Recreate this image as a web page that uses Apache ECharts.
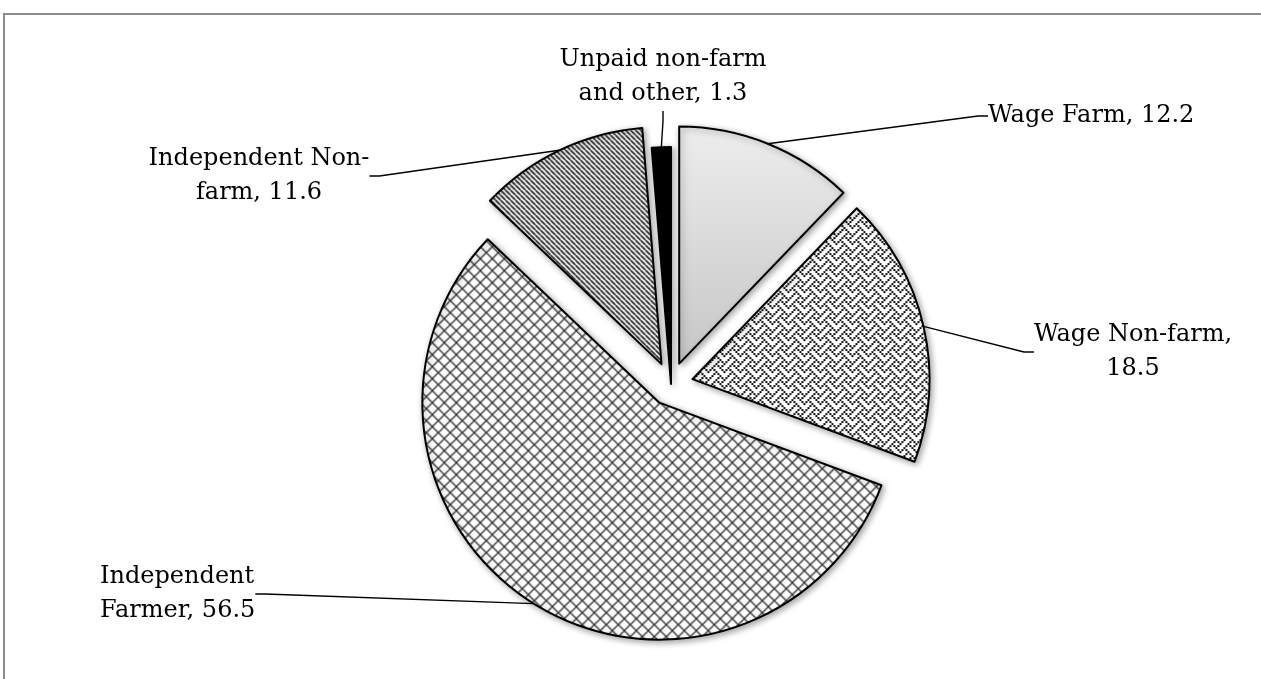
<!DOCTYPE html>
<html>
<head>
<meta charset="utf-8">
<style>
  html, body { margin: 0; padding: 0; background: #fff; }
  #chart { width: 1261px; height: 679px; }
</style>
<script src="https://cdn.jsdelivr.net/npm/echarts@6/dist/echarts.min.js"></script>
</head>
<body>
<div id="chart"></div>
<script>
// data
var categories = ['Wage Farm', 'Wage Non-farm', 'Independent Farmer', 'Independent Non-farm', 'Unpaid non-farm and other']
var values = [12.2, 18.5, 56.5, 11.6, 1.3]
// how each label is broken into lines
var labelNames = ['Wage Farm', 'Wage Non-farm', 'Independent\nFarmer', 'Independent Non-\nfarm', 'Unpaid non-farm\nand other']
var labelSeps = [', ', ',\n', ', ', ', ', ', ']

// label anchor: x, y, align
var labelPos = [
  [988, 116, 'left'],
  [1133, 352, 'center'],
  [100, 594, 'left'],
  [259, 176, 'center'],
  [663, 77, 'center']
]

var CENTER = [671, 384]
var R = 237
var EXPLODE = 22

function makeTile (size, draw) {
  var c = document.createElement('canvas')
  c.width = size
  c.height = size
  var ctx = c.getContext('2d')
  ctx.fillStyle = '#ffffff'
  ctx.fillRect(0, 0, size, size)
  draw(ctx, size)
  return c
}

// diagonal lines, dir 1 = "\" , -1 = "/"
function diagLines (ctx, s, dir, width, color) {
  ctx.strokeStyle = color
  ctx.lineWidth = width
  for (var k = -1; k <= 1; k++) {
    ctx.beginPath()
    if (dir > 0) {
      ctx.moveTo(k * s, 0)
      ctx.lineTo(k * s + s, s)
    } else {
      ctx.moveTo(k * s + s, 0)
      ctx.lineTo(k * s, s)
    }
    ctx.stroke()
  }
}

var diamondTile = makeTile(12, function (ctx, s) {
  diagLines(ctx, s, 1, 1.3, '#333333')
  diagLines(ctx, s, -1, 1.3, '#333333')
})

var stripeTile = makeTile(5, function (ctx, s) {
  diagLines(ctx, s, 1, 1.7, '#222222')
})

// weave bitmap, 8x8, drawn at 2x
var weaveBits = [0x11, 0x2a, 0x44, 0xa2, 0x11, 0x28, 0x44, 0x8a]
var weaveTile = makeTile(16, function (ctx, s) {
  ctx.fillStyle = '#111111'
  for (var r = 0; r < 8; r++) {
    for (var b = 0; b < 8; b++) {
      if (weaveBits[r] & (0x80 >> b)) {
        ctx.fillRect(b * 2, r * 2, 2, 2)
      }
    }
  }
})

var fills = [
  new echarts.graphic.LinearGradient(0, 0, 0, 1, [
    {offset: 0, color: '#ededed'},
    {offset: 1, color: '#c6c6c6'}
  ]),
  {image: weaveTile, repeat: 'repeat'},
  {image: diamondTile, repeat: 'repeat'},
  {image: stripeTile, repeat: 'repeat'},
  '#000000'
]

var sliceStyle = {
  borderColor: '#000',
  borderWidth: 2,
  shadowBlur: 6,
  shadowOffsetX: 2,
  shadowOffsetY: 2,
  shadowColor: 'rgba(0,0,0,0.35)'
}

var clear = {color: 'rgba(0,0,0,0)', borderWidth: 0, shadowBlur: 0, shadowColor: 'rgba(0,0,0,0)'}

var labelStyle = {
  show: true,
  position: 'outside',
  color: '#000',
  fontFamily: 'DejaVu Serif',
  fontSize: 24,
  lineHeight: 34,
  formatter: function (p) {
    return labelNames[p.dataIndex] + labelSeps[p.dataIndex] + values[p.dataIndex]
  }
}

var lineStyle = {
  show: true,
  length: 20,
  length2: 10,
  lineStyle: {color: '#000', width: 1.4}
}

function placeLabel (params) {
  var p = labelPos[params.dataIndex]
  return {x: p[0], y: p[1], align: p[2], verticalAlign: 'middle'}
}

// which = 'exploded' | 'black' | 'labels'
function buildData (which) {
  return categories.map(function (name, i) {
    var isBlack = i === categories.length - 1
    var item = {name: name, value: values[i]}
    if (which === 'exploded') {
      item.itemStyle = isBlack ? clear : {color: fills[i]}
      item.selected = !isBlack
    } else if (which === 'black') {
      item.itemStyle = isBlack ? {color: fills[i]} : clear
      item.label = {show: isBlack}
      item.labelLine = {show: isBlack}
    } else {
      item.itemStyle = clear
      item.label = {show: !isBlack}
      item.labelLine = {show: !isBlack}
    }
    return item
  })
}

function pieSeries (which) {
  var withLabels = which !== 'exploded'
  return {
    type: 'pie',
    silent: true,
    center: CENTER,
    // label carrier sits on the outer edge of the exploded slices
    radius: which === 'labels' ? R + EXPLODE : R,
    startAngle: 90,
    clockwise: true,
    avoidLabelOverlap: false,
    selectedMode: which === 'exploded' ? 'multiple' : false,
    selectedOffset: EXPLODE,
    animation: false,
    itemStyle: which === 'labels' ? clear : sliceStyle,
    label: withLabels ? labelStyle : {show: false},
    labelLine: withLabels ? lineStyle : {show: false},
    labelLayout: withLabels ? placeLabel : null,
    data: buildData(which)
  }
}

var chart = echarts.init(document.getElementById('chart'))
var option = {
  backgroundColor: '#fff',
  graphic: [
    {
      type: 'rect',
      silent: true,
      z: -10,
      shape: {x: 4, y: 14, width: 1400, height: 800},
      style: {fill: 'none', stroke: '#8c8c8c', lineWidth: 2}
    }
  ],
  series: [pieSeries('exploded'), pieSeries('black'), pieSeries('labels')]
}
chart.setOption(option, true)
</script>
</body>
</html>
